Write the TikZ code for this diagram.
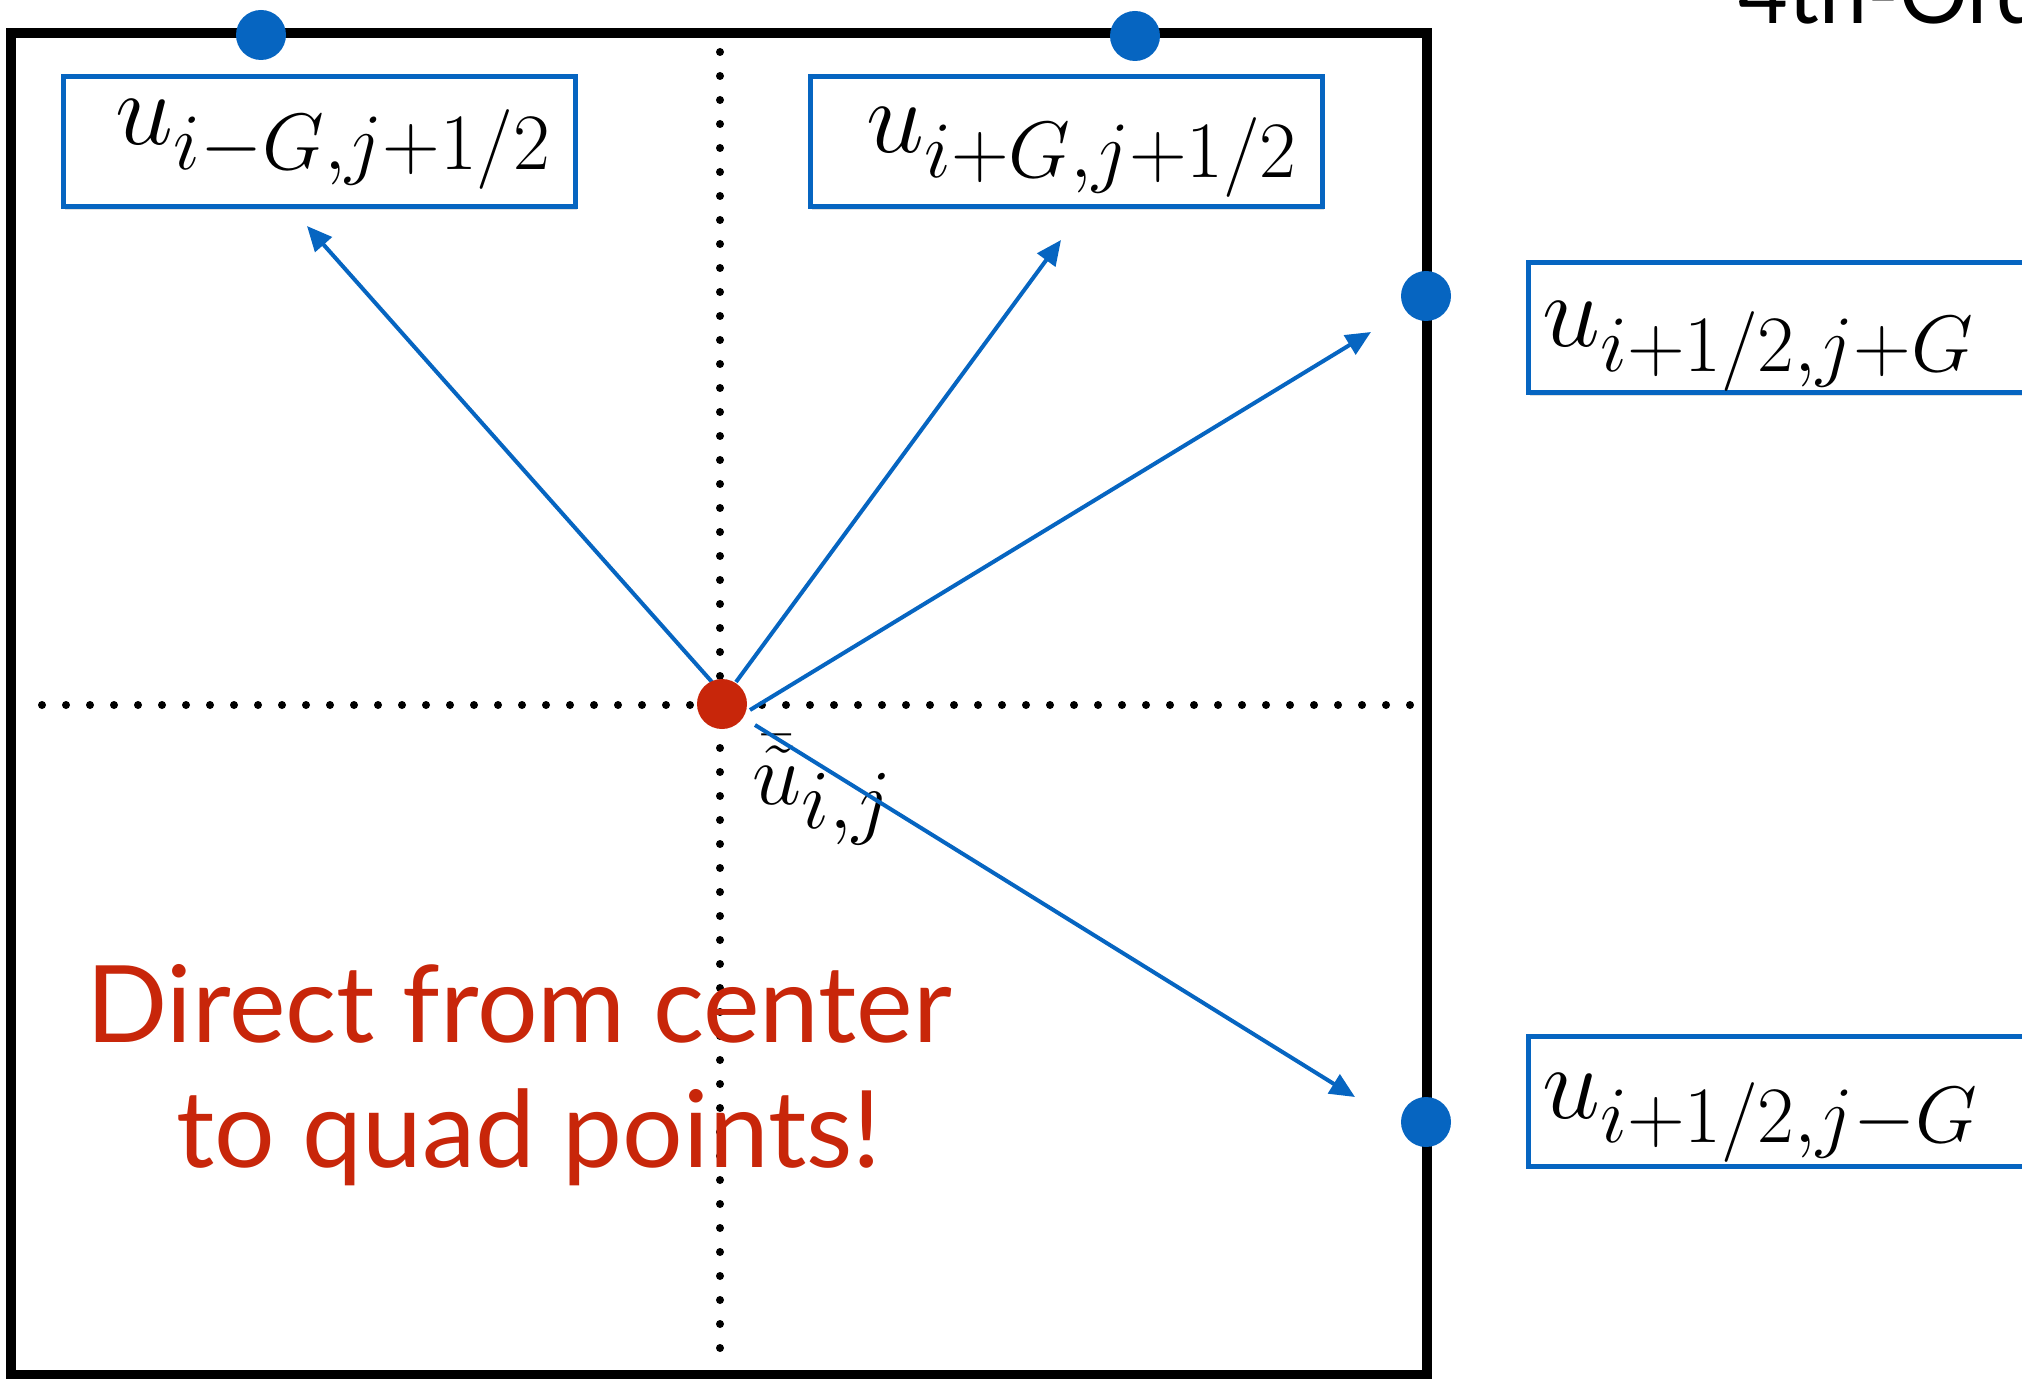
\RequirePackage{fix-cm}
\documentclass[tikz,border=0pt]{standalone}
\usepackage{fontspec}
\newfontfamily\gillfont{Lato}
\usetikzlibrary{arrows.meta,shadows}
\DeclareMathSizes{44}{44}{42}{30}
\DeclareMathSizes{52}{52}{40}{30}
\definecolor{qblue}{RGB}{6,101,193}
\definecolor{qred}{RGB}{200,38,10}
\begin{document}
\begin{tikzpicture}[x=0.5pt,y=-0.5pt,
  qbox/.style={draw=qblue,line width=2.5pt,fill=white,minimum width=256pt,minimum height=65pt,inner sep=0pt,
    drop shadow={opacity=0.25,shadow xshift=0.8pt,shadow yshift=-1.5pt}},
  qdot/.style={circle,fill=qblue,inner sep=0pt,minimum size=25pt},
  rdot/.style={circle,fill=qred,inner sep=0pt,minimum size=25pt},
  qarrow/.style={draw=qblue,line width=2pt,-{Triangle[length=12.5pt,width=11pt]}},
  dotline/.style={line width=4pt,line cap=round,dash pattern=on 0pt off 12pt},
  mlabel/.style={inner sep=0pt,anchor=base west},
  redtext/.style={inner sep=0pt,anchor=base west,text=qred,font=\gillfont\fontsize{53.5}{60}\selectfont}
]
\clip (0,0) rectangle (2022,1379);
\useasboundingbox (0,0) rectangle (2022,1379);
\fill[white] (0,0) rectangle (2022,1379);

% title fragment
\node[inner sep=0pt,anchor=base west,font=\gillfont\fontsize{43}{50}\selectfont] (title) at (1738,24) {4th-Order};

% cell
\draw[line width=5pt] (11,33) rectangle (1427,1375);
\draw[dotline] (42,705) -- (1415,705);
\draw[dotline] (720,52) -- (720,1352);

% boxes
\node[qbox] (b1) at (319,142) {};
\node[qbox] (b2) at (1066,142) {};
\node[qbox] (b3) at (1784,328) {};
\node[qbox] (b4) at (1784,1101) {};
\node[mlabel] (t1) at (115,145) {\fontsize{52}{60}\selectfont$u_{i-G,j+1/2}$};
\node[mlabel] (t2) at (866,153) {\fontsize{52}{60}\selectfont$u_{i+G,j+1/2}$};
\node[mlabel] (t3) at (1542,347) {\fontsize{52}{60}\selectfont$u_{i+1/2,j+G}$};
\node[mlabel] (t4) at (1542,1118) {\fontsize{52}{60}\selectfont$u_{i+1/2,j-G}$};

% center label
\node[mlabel] (ulab) at (752,804) {\fontsize{44}{50}\selectfont$\bar{\tilde{u}}_{i,j}$};

% red text
\node[redtext] (r1) at (86,1042) {Direct from center};
\node[redtext] (r2) at (176,1167) {to quad points!};

% arrows
\coordinate (s1) at (712,682); \coordinate (e1) at (307,226);
\coordinate (s2) at (736,682); \coordinate (e2) at (1061,240);
\coordinate (s3) at (750,710); \coordinate (e3) at (1371,332);
\coordinate (s4) at (755,725); \coordinate (e4) at (1355,1097);
\draw[qarrow] (s1) -- (e1);
\draw[qarrow] (s2) -- (e2);
\draw[qarrow] (s3) -- (e3);
\draw[qarrow] (s4) -- (e4);

% dots
\node[rdot] (c) at (722,704) {};
\node[qdot] (d1) at (261,35) {};
\node[qdot] (d2) at (1135,36) {};
\node[qdot] (d3) at (1426,296) {};
\node[qdot] (d4) at (1426,1122) {};
\end{tikzpicture}
\end{document}
